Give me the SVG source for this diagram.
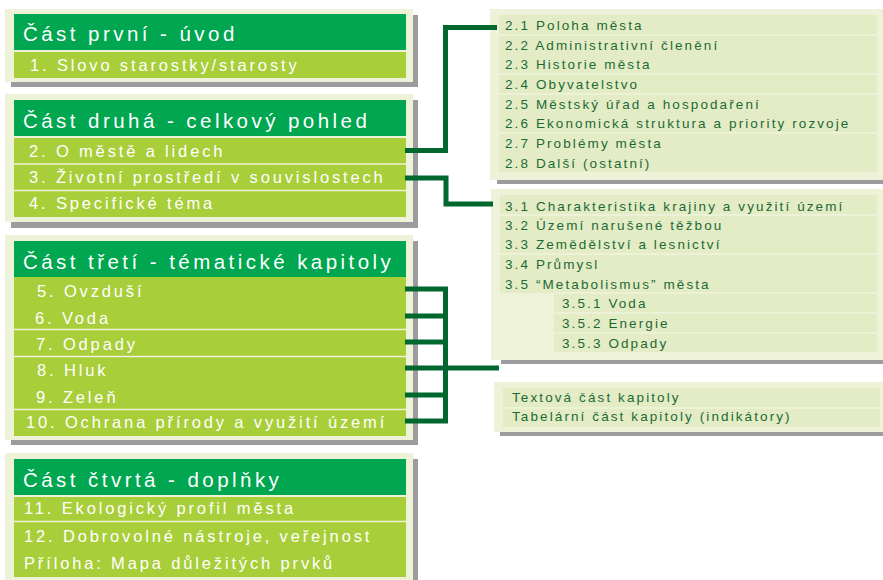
<svg xmlns="http://www.w3.org/2000/svg" width="883" height="580" viewBox="0 0 883 580">
<style>
.frame{fill:#eef2d9}
.shadow{fill:#9c9c9e}
.head{fill:#00a650}
.row{fill:#a8ce3a}
.inner{fill:#e4ecc5}
.sep{stroke:#eef2d9;stroke-width:1.4;fill:none}
.sepr{stroke:#f4f7e6;stroke-width:1.2;fill:none}
text{font-family:"Liberation Sans",Arial,sans-serif}
.h{font-size:20.5px;fill:#ffffff;letter-spacing:3.45px}
.r{font-size:16.5px;fill:#ffffff;letter-spacing:2.85px}
.t{font-size:13.5px;fill:#1c6a36;letter-spacing:2.1px}
.con{stroke:#00672f;stroke-width:5;fill:none;stroke-linejoin:miter;stroke-linecap:butt}
</style>
<rect width="883" height="580" fill="#ffffff"/>

<g id="part1">
<rect class="shadow" x="11" y="15" width="407" height="72"/>
<rect class="frame" x="5" y="9" width="408" height="73"/>
<rect class="head" x="14" y="14" width="392" height="36"/>
<rect class="row" x="14" y="52" width="392" height="26"/>
<text class="h" x="23" y="41">Část první - úvod</text>
<text class="r" x="30" y="71">1. Slovo starostky/starosty</text>
</g>

<g id="part2">
<rect class="shadow" x="11" y="100" width="407" height="128"/>
<rect class="frame" x="5" y="94" width="408" height="128"/>
<rect class="head" x="14" y="100" width="392" height="36"/>
<rect class="row" x="14" y="138" width="392" height="79"/>
<path class="sep" d="M14,164H406M14,190.5H406"/>
<text class="h" x="23" y="128">Část druhá - celkový pohled</text>
<text class="r" x="29" y="157">2. O městě a lidech</text>
<text class="r" x="29" y="183">3. Životní prostředí v souvislostech</text>
<text class="r" x="29" y="209">4. Specifické téma</text>
</g>

<g id="part3">
<rect class="shadow" x="11" y="241" width="407" height="204"/>
<rect class="frame" x="5" y="235" width="408" height="205"/>
<rect class="head" x="14" y="241" width="392" height="36"/>
<rect class="row" x="14" y="277" width="392" height="159"/>
<path class="sep" d="M14,329.5H406M14,356.5H406M14,409.5H406"/>
<text class="h" x="23" y="269">Část třetí - tématické kapitoly</text>
<text class="r" x="37" y="297">5. Ovzduší</text>
<text class="r" x="35" y="324">6. Voda</text>
<text class="r" x="36" y="350">7. Odpady</text>
<text class="r" x="37" y="376">8. Hluk</text>
<text class="r" x="36" y="403">9. Zeleň</text>
<text class="r" x="26" y="428">10. Ochrana přírody a využití území</text>
</g>

<g id="part4">
<rect class="shadow" x="11" y="459" width="407" height="130"/>
<rect class="frame" x="5" y="453" width="408" height="135"/>
<rect class="head" x="14" y="459" width="392" height="36"/>
<rect class="row" x="14" y="497" width="392" height="80"/>
<path class="sep" d="M14,521.5H406"/>
<text class="h" x="23" y="487">Část čtvrtá - doplňky</text>
<text class="r" x="24" y="514">11. Ekologický profil města</text>
<text class="r" x="24" y="542">12. Dobrovolné nástroje, veřejnost</text>
<text class="r" x="24" y="569">Příloha: Mapa důležitých prvků</text>
</g>

<g id="chapter2-topics">
<rect class="shadow" x="497" y="14" width="386" height="170"/>
<rect class="frame" x="490" y="9" width="393" height="171"/>
<rect class="inner" x="499" y="15" width="378" height="157"/>
<path class="sepr" d="M499,35H877M499,74H877M499,94H877M499,133H877"/>
<text class="t" x="505" y="30">2.1 Poloha města</text>
<text class="t" x="505" y="50">2.2 Administrativní členění</text>
<text class="t" x="505" y="69">2.3 Historie města</text>
<text class="t" x="505" y="89">2.4 Obyvatelstvo</text>
<text class="t" x="505" y="109">2.5 Městský úřad a hospodaření</text>
<text class="t" x="505" y="128">2.6 Ekonomická struktura a priority rozvoje</text>
<text class="t" x="505" y="148">2.7 Problémy města</text>
<text class="t" x="505" y="168">2.8 Další (ostatní)</text>
</g>

<g id="chapter3-topics">
<rect class="shadow" x="501" y="194" width="382" height="170"/>
<rect class="frame" x="491" y="189" width="392" height="171"/>
<rect class="inner" x="500" y="195" width="377" height="98"/>
<rect class="inner" x="554" y="293" width="323" height="59"/>
<path class="sepr" d="M500,215H877M500,254H877M554,293H877M554,313H877M554,333H877"/>
<text class="t" x="505" y="211">3.1 Charakteristika krajiny a využití území</text>
<text class="t" x="505" y="230">3.2 Území narušené těžbou</text>
<text class="t" x="505" y="249">3.3 Zemědělství a lesnictví</text>
<text class="t" x="505" y="269">3.4 Průmysl</text>
<text class="t" x="505" y="289">3.5 “Metabolismus” města</text>
<text class="t" x="562" y="308">3.5.1 Voda</text>
<text class="t" x="562" y="328">3.5.2 Energie</text>
<text class="t" x="562" y="348">3.5.3 Odpady</text>
</g>

<g id="chapter-structure">
<rect class="shadow" x="500" y="387" width="383" height="49"/>
<rect class="frame" x="494" y="382" width="389" height="50"/>
<rect class="inner" x="503" y="388" width="377" height="39"/>
<path class="sepr" d="M503,408H880"/>
<text class="t" x="512" y="402">Textová část kapitoly</text>
<text class="t" x="512" y="421">Tabelární část kapitoly (indikátory)</text>
</g>

<g id="connectors">
<path class="con" d="M405,150.5H445.5V27.5H497"/>
<path class="con" d="M405,178H446V204H493"/>
<path class="con" d="M405,289H445.5V421H405"/>
<path class="con" d="M405,316H445.5M405,342H445.5M405,368H445.5M405,395H445.5M445.5,368H499"/>
</g>
</svg>
